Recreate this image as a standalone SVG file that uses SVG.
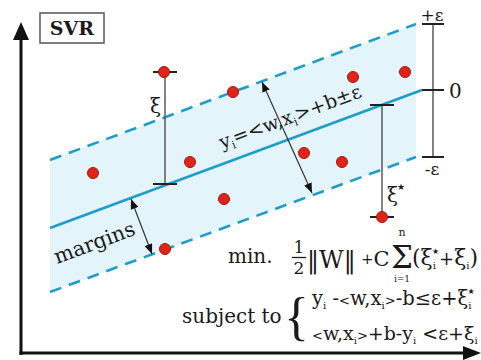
<svg xmlns="http://www.w3.org/2000/svg" width="481" height="360" viewBox="0 0 481 360">
<defs>
<style>
.t{font-family:"DejaVu Serif","Liberation Serif",serif;fill:#1a1a1a}
.st{font-family:"DejaVu Sans",sans-serif;fill:#1a1a1a}
.dot{fill:#e2231a;stroke:#a3170f;stroke-width:1}
.bl{stroke:#1e9dcb;stroke-width:2.6;fill:none}
.dash{stroke-dasharray:12 8}
.gv{stroke:#5a5a5a;stroke-width:1.5}
.tk{stroke:#222;stroke-width:2}
.ar{stroke:#333;stroke-width:1.2;fill:none}
</style>
<marker id="ah" viewBox="0 0 10 8" refX="10" refY="4" markerWidth="10" markerHeight="8" markerUnits="userSpaceOnUse" orient="auto-start-reverse">
<path d="M0,0 L10,4 L0,8 Z" fill="#111"/>
</marker>
</defs>
<rect width="481" height="360" fill="#fff"/>

<g id="band">
<polygon points="50,160 416,24 416,157 50,292" fill="#e4f4fb"/>
</g>

<g id="axes">
<line x1="21" y1="355" x2="21" y2="38" stroke="#111" stroke-width="3"/>
<polygon points="21,22 13,40 29,40" fill="#111"/>
<line x1="19.5" y1="353" x2="465" y2="353" stroke="#111" stroke-width="3"/>
<polygon points="481,353 463,346 463,360" fill="#111"/>
</g>

<g id="title">
<rect x="40" y="13" width="64" height="30" fill="#fff" stroke="#555" stroke-width="1.5"/>
<text class="t" x="72" y="35" font-size="19" font-weight="bold" text-anchor="middle">SVR</text>
</g>

<g id="connectors">
<line class="bl dash" x1="50" y1="160" x2="416" y2="24"/>
<line class="bl dash" x1="50" y1="292" x2="416" y2="157"/>
<line class="bl" x1="50" y1="228" x2="422" y2="90"/>
<line class="gv" x1="165" y1="72" x2="165" y2="184"/>
<line class="tk" x1="153" y1="72" x2="177" y2="72"/>
<line class="tk" x1="153" y1="184" x2="177" y2="184"/>
<line class="gv" x1="382" y1="105" x2="382" y2="217"/>
<line class="tk" x1="370" y1="105" x2="394" y2="105"/>
<line class="tk" x1="370" y1="217" x2="394" y2="217"/>
<line class="gv" x1="433" y1="24" x2="433" y2="157"/>
<line class="tk" x1="422" y1="24" x2="444" y2="24"/>
<line class="tk" x1="422" y1="90" x2="444" y2="90"/>
<line class="tk" x1="422" y1="157" x2="444" y2="157"/>
<line class="ar" x1="262" y1="82" x2="312" y2="193" marker-start="url(#ah)" marker-end="url(#ah)"/>
<line class="ar" x1="131" y1="199" x2="152" y2="254" marker-start="url(#ah)" marker-end="url(#ah)"/>
</g>

<g id="points">
<circle class="dot" cx="164" cy="72" r="5.5"/>
<circle class="dot" cx="233" cy="92" r="5.5"/>
<circle class="dot" cx="190" cy="162" r="5.5"/>
<circle class="dot" cx="93" cy="173" r="5.5"/>
<circle class="dot" cx="353" cy="77" r="5.5"/>
<circle class="dot" cx="405" cy="72" r="5.5"/>
<circle class="dot" cx="304" cy="153" r="5.5"/>
<circle class="dot" cx="342" cy="162" r="5.5"/>
<circle class="dot" cx="224" cy="199" r="5.5"/>
<circle class="dot" cx="165" cy="249" r="5.5"/>
<circle class="dot" cx="382" cy="217" r="5.5"/>
</g>

<g id="labels">
<text class="t" x="150" y="113" font-size="20">ξ</text>
<text class="t" x="387" y="202" font-size="20">ξ<tspan class="st" dx="-1" dy="-12" font-size="9">★</tspan></text>
<text class="t" x="432" y="21" font-size="17" text-anchor="middle">+ε</text>
<text class="t" x="449" y="98" font-size="20">0</text>
<text class="t" x="432" y="175" font-size="17" text-anchor="middle">-ε</text>
<text class="t" transform="translate(222,149) rotate(-20.4)" font-size="19">y<tspan dy="4" font-size="11">i</tspan><tspan dy="-4">=&lt;w,x</tspan><tspan dy="4" font-size="11">i</tspan><tspan dy="-4">&gt;+b±ε</tspan></text>
<text class="t" transform="translate(57,264) rotate(-20.4)" font-size="20.5">margins</text>
</g>

<g id="formula">
<text class="t" x="228" y="263" font-size="20">min.</text>
<text class="t" x="299" y="253" font-size="17" text-anchor="middle">1</text>
<line x1="292" y1="257.5" x2="306" y2="257.5" stroke="#1a1a1a" stroke-width="1.3"/>
<text class="t" x="299" y="274" font-size="17" text-anchor="middle">2</text>
<text class="t" x="307" y="268" font-size="24">‖W‖</text>
<text class="t" x="361" y="266" font-size="21"><tspan font-size="15" dy="-2">+</tspan><tspan dy="2">C</tspan></text>
<text class="t" x="391" y="268" font-size="31">Σ</text>
<text class="t" x="402" y="236" font-size="11" text-anchor="middle">n</text>
<text class="t" x="402" y="282" font-size="9" text-anchor="middle">i=1</text>
<text class="t" x="412" y="265" font-size="22">(ξ<tspan dy="4" font-size="10">i</tspan><tspan class="st" dx="-4" dy="-15" font-size="8">★</tspan><tspan dy="11" font-size="18">+</tspan><tspan font-size="22">ξ</tspan><tspan dy="4" font-size="10">i</tspan><tspan dy="-4">)</tspan></text>
<text class="t" x="182" y="323" font-size="20">subject to</text>
<text x="284" y="334" font-size="52" font-family="Liberation Serif,serif" fill="#1a1a1a">{</text>
<text class="t" x="312" y="305" font-size="19.5">y<tspan dy="4" font-size="10">i</tspan><tspan dy="-4"> -</tspan><tspan font-size="13">&lt;</tspan>w,x<tspan dy="4" font-size="10">i</tspan><tspan dy="-4" font-size="13">&gt;</tspan>-b≤ε+ξ<tspan dy="4" font-size="10">i</tspan><tspan class="st" dx="-4" dy="-15" font-size="8">★</tspan></text>
<text class="t" x="312" y="340" font-size="19"><tspan font-size="13">&lt;</tspan>w,x<tspan dy="4" font-size="10">i</tspan><tspan dy="-4" font-size="13">&gt;</tspan>+b-y<tspan dy="4" font-size="10">i</tspan><tspan dy="-4"> &lt;ε+ξ</tspan><tspan dy="4" font-size="10">i</tspan></text>
</g>
</svg>
